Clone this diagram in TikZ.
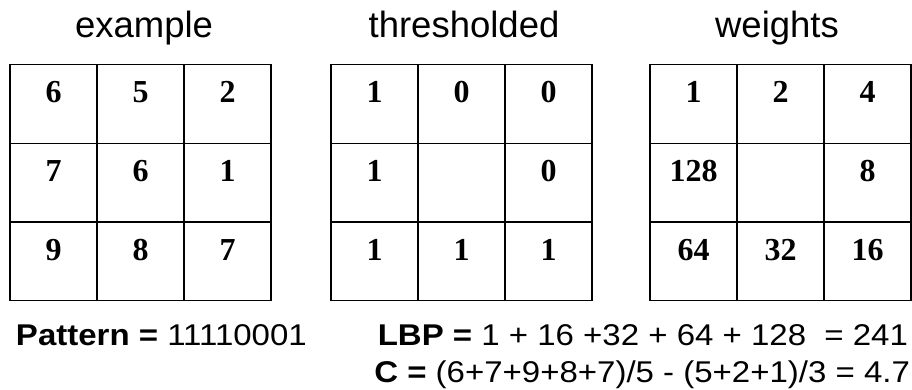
\documentclass[tikz,border=0pt]{standalone}
\usepackage{fontspec}
\usepackage{tikz}
\newfontfamily\labelfont{Liberation Sans}
\newfontfamily\widefont[FakeStretch=1.1]{Liberation Sans}
\newfontfamily\cellfont{Liberation Serif}
\tikzset{
    every node/.style={inner sep=0pt, outer sep=0pt}
}
\tikzset{
    cell/.style={draw, line width=1.1pt, minimum width=87pt, minimum height=78.3pt,
    	text height=22pt, text depth=24pt, font=\cellfont\bfseries\fontsize{32}{34}\selectfont}
}
\tikzset{
    title/.style={anchor=base, font=\labelfont\fontsize{36.5}{40}\selectfont},
    formula/.style={font=\widefont\fontsize{30}{34}\selectfont}
}

\begin{document}
\begin{tikzpicture}[x=1pt,y=-1pt]
	\useasboundingbox (0,0) rectangle (912,390);
	\node (t1) [title] at (144,38) {example};
	\node (t2) [title] at (464,38) {thresholded};
	\node (t3) [title] at (777,38) {weights};

	\node (e11) [cell] at (53.5,104) {6};
	\node (e12) [cell] at (140.5,104) {5};
	\node (e13) [cell] at (227.5,104) {2};
	\node (e21) [cell] at (53.5,183) {7};
	\node (e22) [cell] at (140.5,183) {6};
	\node (e23) [cell] at (227.5,183) {1};
	\node (e31) [cell] at (53.5,261) {9};
	\node (e32) [cell] at (140.5,261) {8};
	\node (e33) [cell] at (227.5,261) {7};

	\node (h11) [cell] at (374.5,104) {1};
	\node (h12) [cell] at (461.5,104) {0};
	\node (h13) [cell] at (548.5,104) {0};
	\node (h21) [cell] at (374.5,183) {1};
	\node (h22) [cell] at (461.5,183) {};
	\node (h23) [cell] at (548.5,183) {0};
	\node (h31) [cell] at (374.5,261) {1};
	\node (h32) [cell] at (461.5,261) {1};
	\node (h33) [cell] at (548.5,261) {1};

	\node (w11) [cell] at (693.5,104) {1};
	\node (w12) [cell] at (780.5,104) {2};
	\node (w13) [cell] at (867.5,104) {4};
	\node (w21) [cell] at (693.5,183) {128};
	\node (w22) [cell] at (780.5,183) {};
	\node (w23) [cell] at (867.5,183) {8};
	\node (w31) [cell] at (693.5,261) {64};
	\node (w32) [cell] at (780.5,261) {32};
	\node (w33) [cell] at (867.5,261) {16};

	\node (pat) [formula, anchor=base west] at (16,345) {\textbf{Pattern =} 11110001};
	\node (lbp) [formula, anchor=base east] at (908,345) {\textbf{LBP =} 1 + 16 +32 + 64 + 128 \ = 241};
	\node (con) [formula, anchor=base east] at (910,382) {\textbf{C =} (6+7+9+8+7)/5 - (5+2+1)/3 = 4.7};
\end{tikzpicture}
\end{document}
